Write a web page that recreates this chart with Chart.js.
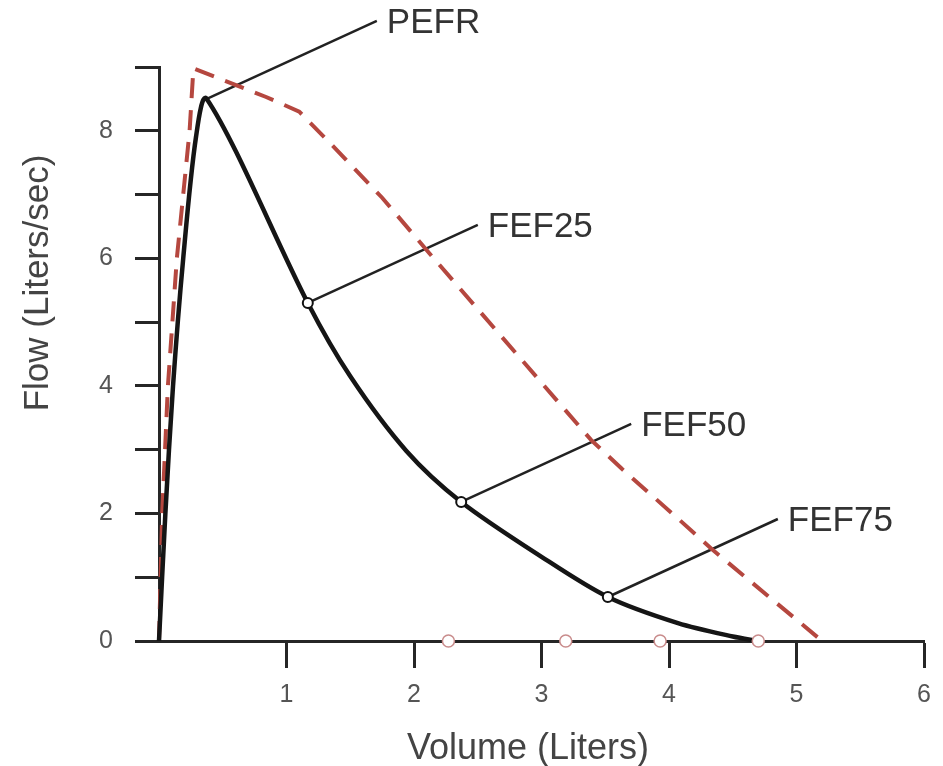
<!DOCTYPE html>
<html>
<head>
<meta charset="utf-8">
<title>Flow-volume curve</title>
<script src="https://cdn.jsdelivr.net/npm/chart.js@4.4.0/dist/chart.umd.min.js"></script>
<style>
  html, body { margin: 0; padding: 0; background: #fff; }
  canvas { display: block; }
</style>
</head>
<body>
<canvas id="flowChart" width="943" height="766"></canvas>
<script>
// Flow-volume curves (volume in liters, flow in liters/sec)

// Black solid curve
const measuredVolume = [0, 0.05, 0.11, 0.19, 0.29, 0.375, 1.167, 1.5, 1.94, 2.37, 3.0, 3.52, 4.07, 4.5, 4.7];
const measuredFlow   = [0, 2,    4,    6,    7.9,  8.5,   5.3,   4.15, 2.98, 2.18, 1.32, 0.69, 0.28, 0.07, 0];

// Red dashed curve
const predictedVolume = [0, 0.025, 0.07, 0.14, 0.24, 0.27, 0.84, 1.1, 1.34, 1.75, 2.12, 3.39, 3.63, 4.07, 4.33, 5.2];
const predictedFlow   = [0, 2,     4,    6,    8,    8.98, 8.53, 8.3, 7.81, 6.95, 6.08, 3.15, 2.7,  1.92, 1.45, 0];

// Labelled points on the black curve
const markerNames  = ['PEFR', 'FEF25', 'FEF50', 'FEF75'];
const markerVolume = [0.375, 1.167, 2.37, 3.52];
const markerFlow   = [8.5, 5.3, 2.18, 0.69];

// Open circles sitting on the volume axis
const axisPointVolume = [2.27, 3.19, 3.93, 4.7];
const axisPointFlow   = [0, 0, 0, 0];

// Tick labels
const volumeTicks = [1, 2, 3, 4, 5, 6];
const flowTicks = [0, 2, 4, 6, 8];

const FONT = '"Liberation Sans", Arial, Helvetica, sans-serif';
const AXIS_COLOR = '#262626';

function toPoints(xs, ys) {
    return xs.map((x, i) => ({ x: x, y: ys[i] }));
}

// Leader lines, callout text and axis titles
const calloutPlugin = {
    id: 'callouts',
    beforeDatasetsDraw(chart) {
        const { ctx, scales: { x, y } } = chart;
        ctx.save();
        ctx.strokeStyle = '#222';
        ctx.lineWidth = 2.5;
        markerNames.forEach((name, i) => {
            const px = x.getPixelForValue(markerVolume[i]);
            const py = y.getPixelForValue(markerFlow[i]);
            ctx.beginPath();
            ctx.moveTo(px, py);
            ctx.lineTo(px + 170, py - 78);
            ctx.stroke();
        });
        ctx.restore();
    },
    afterDraw(chart) {
        const { ctx, scales: { x, y } } = chart;
        ctx.save();
        ctx.fillStyle = '#333';
        ctx.font = '35px ' + FONT;
        ctx.textBaseline = 'middle';
        ctx.textAlign = 'left';
        markerNames.forEach((name, i) => {
            const px = x.getPixelForValue(markerVolume[i]);
            const py = y.getPixelForValue(markerFlow[i]);
            ctx.fillText(name, px + 180, py - 76);
        });

        // axis titles
        ctx.fillStyle = '#444';
        ctx.font = '36px ' + FONT;
        ctx.textAlign = 'center';
        ctx.textBaseline = 'alphabetic';
        ctx.fillText('Volume (Liters)', 528, 759);

        ctx.translate(48, 283);
        ctx.rotate(-Math.PI / 2);
        ctx.font = '35px ' + FONT;
        ctx.fillText('Flow (Liters/sec)', 0, 0);
        ctx.restore();
    }
};

const ctx = document.getElementById('flowChart').getContext('2d');
const flowChart = new Chart(ctx, {
    type: 'line',
    data: {
        datasets: [
            {
                label: 'Markers',
                data: toPoints(markerVolume, markerFlow),
                showLine: false,
                pointRadius: c => (c.dataIndex === 0 ? 0 : 5),
                pointBackgroundColor: '#fff',
                pointBorderColor: '#111',
                pointBorderWidth: 2,
                clip: false
            },
            {
                label: 'Axis points',
                data: toPoints(axisPointVolume, axisPointFlow),
                showLine: false,
                pointRadius: 6,
                pointBackgroundColor: '#fff',
                pointBorderColor: '#c98c8c',
                pointBorderWidth: 1.5,
                clip: false
            },
            {
                label: 'Measured',
                data: toPoints(measuredVolume, measuredFlow),
                borderColor: '#151515',
                borderWidth: 4.5,
                pointRadius: 0,
                tension: 0.3,
                fill: false,
                clip: false
            },
            {
                label: 'Predicted',
                data: toPoints(predictedVolume, predictedFlow),
                borderColor: '#b5473f',
                borderWidth: 4,
                borderDash: [20, 12],
                pointRadius: 0,
                tension: 0,
                fill: false,
                clip: false
            }
        ]
    },
    options: {
        responsive: false,
        animation: false,
        events: [],
        layout: {
            padding: { top: 67, right: 16, bottom: 0, left: 0 }
        },
        plugins: {
            legend: { display: false },
            tooltip: { enabled: false }
        },
        scales: {
            x: {
                type: 'linear',
                min: 0,
                max: 6,
                afterFit: s => { s.height = 125; },
                ticks: {
                    stepSize: 1,
                    autoSkip: false,
                    padding: 12,
                    color: '#555',
                    font: { family: FONT, size: 25 },
                    callback: v => (volumeTicks.includes(v) ? v : '')
                },
                grid: {
                    drawOnChartArea: false,
                    tickLength: 27,
                    tickWidth: 3,
                    tickColor: c => (c.tick && c.tick.value === 0 ? 'rgba(0,0,0,0)' : AXIS_COLOR)
                },
                border: { color: AXIS_COLOR, width: 3 }
            },
            y: {
                min: 0,
                max: 9,
                afterFit: s => { s.width = 159; },
                ticks: {
                    stepSize: 1,
                    autoSkip: false,
                    padding: 22,
                    color: '#555',
                    font: { family: FONT, size: 25 },
                    callback: v => (flowTicks.includes(v) ? v : '')
                },
                grid: {
                    drawOnChartArea: false,
                    tickLength: 24,
                    tickWidth: 3,
                    tickColor: AXIS_COLOR
                },
                border: { color: AXIS_COLOR, width: 3 }
            }
        }
    },
    plugins: [calloutPlugin]
});
</script>
</body>
</html>
